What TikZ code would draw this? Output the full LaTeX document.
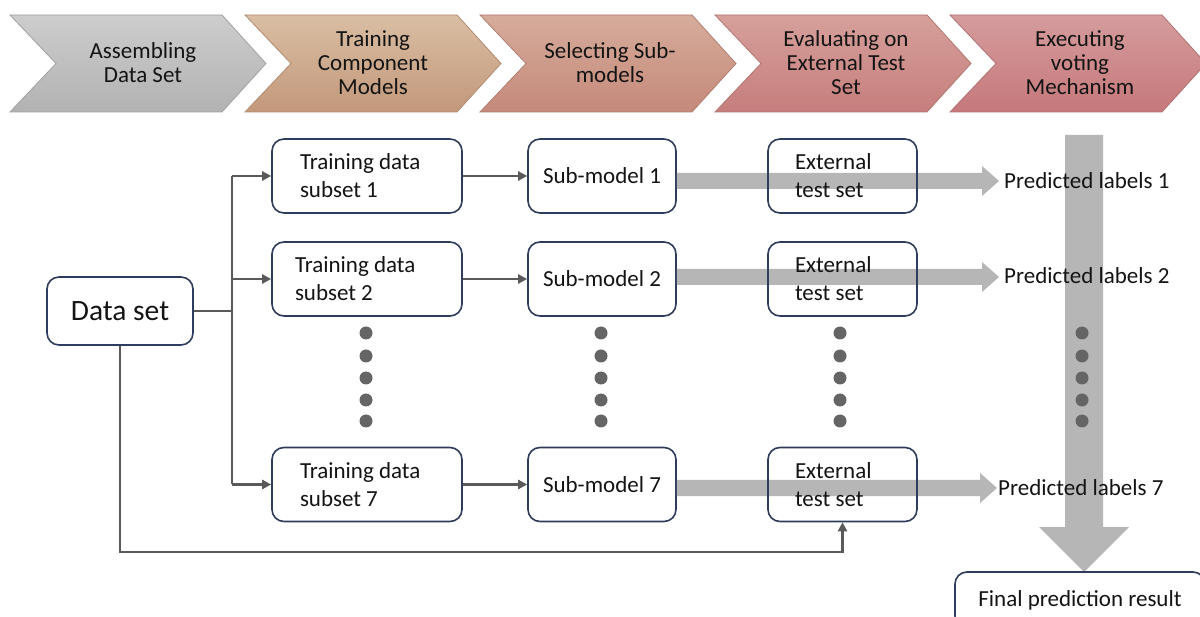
\documentclass[tikz,border=0pt]{standalone}
\usepackage{fontspec}
\setmainfont{Carlito}
\usetikzlibrary{arrows.meta,calc}
\definecolor{boxline}{HTML}{2E3D5C}
\definecolor{connc}{HTML}{5A5A5A}
\definecolor{bigarr}{HTML}{B6B6B6}
\definecolor{dotc}{HTML}{656565}
\definecolor{txt}{HTML}{141414}
\definecolor{chAt}{HTML}{CDCDCD}\definecolor{chAb}{HTML}{B2B2B2}\definecolor{chAd}{HTML}{A2A2A2}
\definecolor{chBt}{HTML}{D9BEA3}\definecolor{chBb}{HTML}{C3987B}\definecolor{chBd}{HTML}{B08C72}
\definecolor{chCt}{HTML}{D6AC9B}\definecolor{chCb}{HTML}{C5897A}\definecolor{chCd}{HTML}{B27E72}
\definecolor{chDt}{HTML}{D6A09B}\definecolor{chDb}{HTML}{C67E7C}\definecolor{chDd}{HTML}{B27774}
\definecolor{chEt}{HTML}{D59C9D}\definecolor{chEb}{HTML}{C6787B}\definecolor{chEd}{HTML}{B27374}
\newcommand\stagechevron[4]{%
  \shade[top color=#2, bottom color=#3] (#1,15) -- (#1+212,15) -- (#1+256,63.5) -- (#1+212,112) -- (#1,112) -- (#1+46,63.5) -- cycle;
  \draw[#4, line width=0.8pt] (#1,15) -- (#1+212,15) -- (#1+256,63.5) -- (#1+212,112) -- (#1,112) -- (#1+46,63.5) -- cycle;}
\newcommand\grayharrow[3]{%
  \fill[bigarr] (#1.east |- 0,#2-8) -- (#3-17,#2-8) -- (#3-17,#2-15) -- (#3,#2) -- (#3-17,#2+15) -- (#3-17,#2+8) -- (#1.east |- 0,#2+8) -- cycle;}
\begin{document}
\begin{tikzpicture}[x=1pt,y=-1pt,
  stagetxt/.style={font=\fontsize{23}{24}\selectfont, align=center, text=txt, inner sep=0pt},
  rbox/.style={draw=boxline, line width=1.6pt, rounded corners=12pt, fill=white, text=txt,
    font=\fontsize{23}{28}\selectfont, minimum height=74pt},
  trbox/.style={rbox, align=flush left, inner xsep=28pt, text width=134pt},
  smbox/.style={rbox, minimum width=148pt},
  exbox/.style={rbox, fill=none, align=flush left, inner xsep=27pt, text width=95pt},
  plainlink/.style={draw=connc, line width=2.6pt},
  linkarrow/.style={plainlink, -{Triangle[length=9pt,width=9pt]}},
  predtxt/.style={anchor=west, inner sep=0pt, text=txt, font=\fontsize{23}{28}\selectfont}
]
\useasboundingbox (0,0) rectangle (1200,617);
\fill[white] (0,0) rectangle (1200,617);

% stage chevrons
\stagechevron{10}{chAt}{chAb}{chAd}
\stagechevron{245}{chBt}{chBb}{chBd}
\stagechevron{480}{chCt}{chCb}{chCd}
\stagechevron{715}{chDt}{chDb}{chDd}
\stagechevron{950}{chEt}{chEb}{chEd}
\node[stagetxt] (s1) at (143,63) {Assembling\\Data Set};
\node[stagetxt] (s2) at (373,63) {Training\\Component\\Models};
\node[stagetxt] (s3) at (610,63) {Selecting Sub-\\models};
\node[stagetxt] (s4) at (846,63) {Evaluating on\\External Test\\Set};
\node[stagetxt] (s5) at (1080,63) {Executing\\voting\\Mechanism};

% vertical voting arrow
\fill[bigarr] (1065,135) -- (1103,135) -- (1103,527) -- (1129,527) -- (1084,572) -- (1039,527) -- (1065,527) -- cycle;

% boxes
\node[rbox, minimum width=146pt, minimum height=68pt, font=\fontsize{29.5}{34}\selectfont] (ds) at (120,311) {Data set};
\node[trbox] (tr1) at (367,176) {Training data\\subset 1};
\node[trbox, inner xsep=23pt, text width=144pt] (tr2) at (367,279) {Training data\\subset 2};
\node[trbox] (tr7) at (367,484.5) {Training data\\subset 7};
\node[smbox] (sm1) at (602,176) {Sub-model 1};
\node[smbox] (sm2) at (602,279) {Sub-model 2};
\node[smbox] (sm7) at (602,484.5) {Sub-model 7};

% thick gray arrows
\grayharrow{sm1}{181}{999}
\grayharrow{sm2}{277}{999}
\grayharrow{sm7}{488}{997}

\node[exbox] (ex1) at (842.5,176) {External\\test set};
\node[exbox] (ex2) at (842.5,279) {External\\test set};
\node[exbox] (ex7) at (842.5,484.5) {External\\test set};

\node[predtxt] (p1) at (1004,181) {Predicted labels 1};
\node[predtxt] (p2) at (1004,276) {Predicted labels 2};
\node[predtxt] (p7) at (998,488) {Predicted labels 7};

\node[rbox, minimum width=250pt, minimum height=56pt] (fin) at (1080,600) {Final prediction result};

% dots
\foreach \dx in {366,601,840,1082}
  \foreach \dy in {333,356,378,400,421}
    \fill[dotc] (\dx,\dy) circle (6.5pt);

% connectors
\coordinate (jn) at (232,311);
\draw[plainlink] (ds.east) -- (jn);
\draw[plainlink] (jn |- tr1.west) -- (jn |- tr7.west);
\draw[linkarrow] (jn |- tr1.west) -- (tr1.west);
\draw[linkarrow] (jn |- tr2.west) -- (tr2.west);
\draw[linkarrow] (jn |- tr7.west) -- (tr7.west);
\draw[linkarrow] (tr1.east) -- (sm1.west);
\draw[linkarrow] (tr2.east) -- (sm2.west);
\draw[linkarrow] (tr7.east) -- (sm7.west);
\draw[linkarrow] (ds.south) -- ++(0,206) -| (ex7.south);
\end{tikzpicture}
\end{document}
